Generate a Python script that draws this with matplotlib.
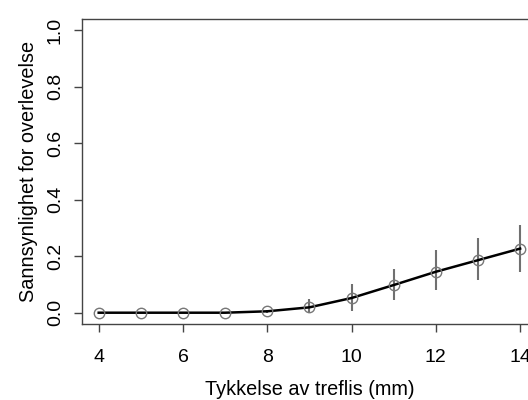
import matplotlib
matplotlib.use("Agg")
import matplotlib.pyplot as plt

plt.rcParams['font.family'] = ['Liberation Sans', 'DejaVu Sans']

thickness = [4, 5, 6, 7, 8, 9, 10, 11, 12, 13, 14]
prob = [0.0, 0.0, 0.0, 0.0, 0.005, 0.019, 0.052, 0.098, 0.145, 0.186, 0.227]
lower = [0.0, 0.0, 0.0, 0.0, 0.0, 0.0, 0.007, 0.046, 0.08, 0.117, 0.143]
upper = [0.0, 0.0, 0.0, 0.0, 0.01, 0.05, 0.10, 0.155, 0.222, 0.266, 0.31]
xticks = [4, 6, 8, 10, 12, 14]
yticks = [0.0, 0.2, 0.4, 0.6, 0.8, 1.0]

fig = plt.figure(figsize=(5.28, 4.0), dpi=100)
ax = fig.add_axes([0.155, 0.19, 0.862, 0.7625])

ax.vlines(thickness, lower, upper, color='#707070', linewidth=1.5, zorder=2)
ax.plot(thickness, prob, color='black', linewidth=1.8, zorder=3)
ax.plot(thickness, prob, linestyle='none', marker='o', markersize=7.5,
        markerfacecolor='none', markeredgecolor='#777777', markeredgewidth=1.0, zorder=4)

ax.set_xlim(3.6, 14.4)
ax.set_ylim(-0.04, 1.04)
ax.set_xticks(xticks)
ax.set_yticks(yticks)
ax.set_xticklabels([str(t) for t in xticks], fontsize=14)
ax.set_yticklabels([f"{t:.1f}" for t in yticks], fontsize=14, rotation=90, va='center')
ax.tick_params(direction='out', length=6, width=1, color='#444444')
ax.tick_params(axis='x', pad=12)
ax.tick_params(axis='y', pad=7)
for s in ax.spines.values():
    s.set_color('#444444')
    s.set_linewidth(1.0)

ax.set_xlabel('Tykkelse av treflis (mm)', fontsize=14.3, labelpad=10)
ax.set_ylabel('Sannsynlighet for overlevelse', fontsize=14.3, labelpad=6)

fig.savefig('out.png', dpi=100)
